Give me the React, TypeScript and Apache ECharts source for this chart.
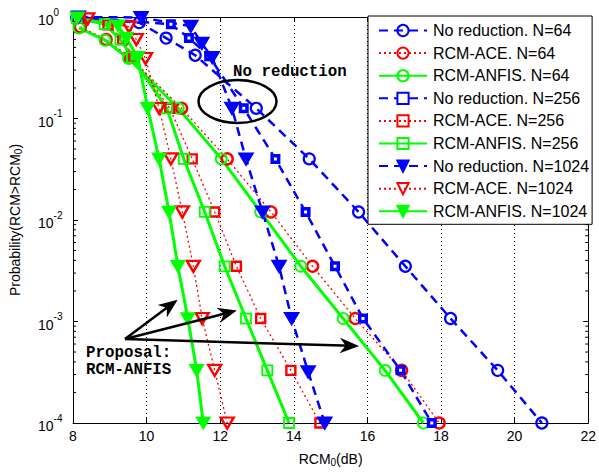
import React, { useEffect, useRef } from 'react';
import * as echarts from 'echarts';

// ---- data (x: RCM0 in dB, y: probability) ----
const noRed64 = [[8.1, 0.99], [9.8, 0.88], [10.53, 0.62], [11.32, 0.42], [12.98, 0.126], [14.42, 0.04], [15.76, 0.012], [17.03, 0.0035], [18.26, 0.00107], [19.54, 0.00033], [20.74, 0.0001]];
const ace64 = [[8.2, 0.8], [8.9, 0.6], [9.55, 0.4], [10.95, 0.126], [12.19, 0.04], [13.38, 0.012], [14.51, 0.0035], [15.67, 0.00107], [16.93, 0.00033], [17.95, 0.0001]];
const anfis64 = [[8.16, 0.78], [8.87, 0.59], [9.51, 0.39], [10.86, 0.126], [12.03, 0.04], [13.1, 0.012], [14.19, 0.0035], [15.34, 0.00107], [16.48, 0.00033], [17.52, 0.0001]];
const noRed256 = [[8.2, 0.99], [10.66, 0.85], [11.15, 0.62], [11.7, 0.41], [12.64, 0.126], [13.5, 0.04], [14.32, 0.012], [15.12, 0.0035], [15.88, 0.00107], [16.9, 0.00033], [17.75, 0.0001]];
const ace256 = [[8.2, 0.97], [8.95, 0.84], [9.35, 0.6], [9.65, 0.4], [10.63, 0.126], [11.24, 0.04], [11.85, 0.012], [12.44, 0.0035], [13.1, 0.00107], [13.92, 0.00033], [14.71, 0.0001]];
const anfis256 = [[8.1, 0.98], [8.86, 0.85], [9.29, 0.6], [9.6, 0.4], [10.55, 0.126], [11.01, 0.04], [11.58, 0.012], [12.12, 0.0035], [12.7, 0.00107], [13.28, 0.00033], [13.87, 0.0001]];
const noRed1024 = [[8.15, 1.0], [9.85, 0.99], [11.2, 0.81], [11.5, 0.55], [11.78, 0.4], [12.32, 0.126], [12.7, 0.04], [13.15, 0.012], [13.6, 0.0035], [13.94, 0.00107], [14.39, 0.00032], [14.84, 0.0001]];
const ace1024 = [[8.4, 0.96], [9.52, 0.8], [9.72, 0.6], [9.97, 0.39], [10.34, 0.126], [10.66, 0.04], [10.97, 0.012], [11.27, 0.0035], [11.51, 0.00107], [11.85, 0.00033], [12.19, 0.0001]];
const anfis1024 = [[8.12, 0.98], [9.22, 0.82], [9.45, 0.62], [9.76, 0.4], [10.03, 0.126], [10.34, 0.04], [10.61, 0.012], [10.85, 0.0035], [11.12, 0.00107], [11.36, 0.00033], [11.54, 0.0001]];

const seriesNames = [
  'No reduction. N=64', 'RCM-ACE. N=64', 'RCM-ANFIS. N=64',
  'No reduction. N=256', 'RCM-ACE. N=256', 'RCM-ANFIS. N=256',
  'No reduction. N=1024', 'RCM-ACE. N=1024', 'RCM-ANFIS. N=1024',
];

const X_MIN = 8;
const X_MAX = 22;
const X_STEP = 2;
const Y_MIN = 1e-4;
const Y_MAX = 1;
const MINOR_MULTS = [2, 3, 4, 5, 6, 7, 8, 9];
const DECADES = [1e-4, 1e-3, 1e-2, 1e-1];

const BLUE = '#0000ff';
const RED = '#ff0000';
const GREEN = '#00ff00';
const FONT = 'Liberation Sans, Arial, Helvetica, sans-serif';
const MONO = 'Liberation Mono, Courier New, monospace';

type Kind = 'blue' | 'red' | 'green';
function lineStyleFor(kind: Kind) {
  if (kind === 'blue') return { color: BLUE, width: 2.5, type: [9, 6] as any };
  if (kind === 'red') return { color: RED, width: 1.3, type: [2, 3] as any };
  return { color: GREEN, width: 3, type: 'solid' as any };
}

function mk(name: string, data: number[][], kind: Kind, symbol: string, size: any, fill: string, borderWidth: number, rotate = 0) {
  const color = kind === 'blue' ? BLUE : kind === 'red' ? RED : GREEN;
  return {
    name,
    type: 'line',
    data,
    symbol,
    symbolSize: size,
    symbolRotate: rotate,
    showAllSymbol: true,
    lineStyle: lineStyleFor(kind),
    itemStyle: {
      color: fill,
      borderColor: color,
      borderWidth,
    },
    emphasis: { disabled: true },
    z: 3,
  };
}

const CLEAR = 'rgba(255,255,255,0)';

export default function App() {
  const ref = useRef<HTMLDivElement>(null);
  useEffect(() => {
    if (!ref.current) return;
    const chart = echarts.init(ref.current, null, { renderer: 'svg' });

    const minorData: number[][] = [];
    DECADES.forEach((d) => MINOR_MULTS.forEach((m) => minorData.push([X_MIN, d * m])));

    const series: any[] = [
      mk(seriesNames[0], noRed64, 'blue', 'circle', 11, CLEAR, 2.2),
      mk(seriesNames[1], ace64, 'red', 'circle', 11, CLEAR, 2.4),
      mk(seriesNames[2], anfis64, 'green', 'circle', 11, CLEAR, 1.8),
      mk(seriesNames[3], noRed256, 'blue', 'rect', 6.5, '#fff', 3.5),
      mk(seriesNames[4], ace256, 'red', 'rect', 9, CLEAR, 2.4),
      mk(seriesNames[5], anfis256, 'green', 'rect', 10, CLEAR, 1.8),
      mk(seriesNames[6], noRed1024, 'blue', 'triangle', [13, 11], BLUE, 2.2, 180),
      mk(seriesNames[7], ace1024, 'red', 'triangle', [13, 11], CLEAR, 2.4, 180),
      mk(seriesNames[8], anfis1024, 'green', 'triangle', [13, 11], GREEN, 1.8, 180),
      {
        type: 'custom',
        name: 'minorTicks',
        silent: true,
        data: minorData,
        encode: { x: 0, y: 1 },
        renderItem: (params: any, api: any) => {
          const pt = api.coord([api.value(0), api.value(1)]);
          const cs = params.coordSys;
          const y = pt[1];
          return {
            type: 'group',
            children: [
              { type: 'line', shape: { x1: cs.x, y1: y, x2: cs.x + 3, y2: y }, style: { stroke: '#000', lineWidth: 1 } },
              { type: 'line', shape: { x1: cs.x + cs.width, y1: y, x2: cs.x + cs.width - 3, y2: y }, style: { stroke: '#000', lineWidth: 1 } },
            ],
          };
        },
        z: 1,
      },
    ];

    // arrow annotation helpers (annotation positions in pixels)
    const origin = [125, 339];
    const tips = [[176, 301], [235, 311], [357, 346]];
    const arrowEls: any[] = [];
    tips.forEach((t) => {
      const dx = t[0] - origin[0];
      const dy = t[1] - origin[1];
      const len = Math.sqrt(dx * dx + dy * dy);
      const ux = dx / len;
      const uy = dy / len;
      const nx = -uy;
      const ny = ux;
      const L = 15;
      const W = 6;
      const base = [t[0] - ux * L, t[1] - uy * L];
      arrowEls.push({
        type: 'line',
        shape: { x1: origin[0], y1: origin[1], x2: t[0] - ux * 6, y2: t[1] - uy * 6 },
        style: { stroke: '#000', lineWidth: 2.5 },
        z: 50,
      });
      arrowEls.push({
        type: 'polygon',
        shape: {
          points: [
            [t[0], t[1]],
            [base[0] + nx * W, base[1] + ny * W],
            [t[0] - ux * L * 0.7, t[1] - uy * L * 0.7],
            [base[0] - nx * W, base[1] - ny * W],
          ],
        },
        style: { fill: '#000', stroke: '#000', lineWidth: 1.5, lineJoin: 'miter' },
        z: 50,
      });
    });

    const option: any = {
      animation: false,
      backgroundColor: '#fff',
      grid: { left: 72, right: 9, top: 17, bottom: 46, containLabel: false },
      legend: {
        data: seriesNames,
        orient: 'vertical',
        left: 368,
        top: 16,
        width: 230,
        itemWidth: 48,
        itemHeight: 14,
        itemGap: 6.6,
        padding: [6.5, 3, 5, 10],
        backgroundColor: '#fff',
        borderColor: '#000',
        borderWidth: 1,
        borderRadius: 0,
        selectedMode: false,
        textStyle: { fontFamily: FONT, fontSize: 16, color: '#000', lineHeight: 16, padding: [0, 0, 0, 1] },
        z: 20,
      },
      xAxis: [
        {
          type: 'value',
          min: X_MIN,
          max: X_MAX,
          interval: X_STEP,
          name: 'RCM{sub|0}(dB)',
          nameLocation: 'middle',
          nameGap: 28,
          nameTextStyle: {
            fontFamily: FONT, fontSize: 14, color: '#000',
            rich: { sub: { fontFamily: FONT, fontSize: 10, color: '#000', verticalAlign: 'bottom', padding: [6, 0, 0, 0] } },
          },
          axisLine: { show: true, lineStyle: { color: '#000', width: 1 } },
          axisTick: { show: true, inside: true, length: 5, lineStyle: { color: '#000' } },
          axisLabel: { fontFamily: FONT, fontSize: 14, color: '#000', margin: 6 },
          splitLine: { show: true, lineStyle: { color: '#000', type: [1, 3], width: 1 } },
        },
        {
          type: 'value',
          position: 'top',
          min: X_MIN,
          max: X_MAX,
          interval: X_STEP,
          axisLine: { show: true, lineStyle: { color: '#000', width: 1 } },
          axisTick: { show: true, inside: true, length: 5, lineStyle: { color: '#000' } },
          axisLabel: { show: false },
          splitLine: { show: false },
        },
      ],
      yAxis: [
        {
          type: 'log',
          logBase: 10,
          min: Y_MIN,
          max: Y_MAX,
          name: 'Probability(RCM>RCM{sub|0})',
          nameLocation: 'middle',
          nameGap: 50,
          nameRotate: 90,
          nameTextStyle: {
            fontFamily: FONT, fontSize: 14, color: '#000',
            rich: { sub: { fontFamily: FONT, fontSize: 10, color: '#000', verticalAlign: 'bottom', padding: [6, 0, 0, 0] } },
          },
          axisLine: { show: true, lineStyle: { color: '#000', width: 1 } },
          axisTick: { show: true, inside: true, length: 5, lineStyle: { color: '#000' } },
          axisLabel: {
            fontFamily: FONT,
            fontSize: 14,
            color: '#000',
            align: 'left',
            margin: 35,
            formatter: (v: number) => '{b|10}{s|' + Math.round(Math.log10(v)) + '}',
            rich: {
              b: { fontFamily: FONT, fontSize: 14, color: '#000', verticalAlign: 'bottom', lineHeight: 20, padding: [6, 0, 0, 0] },
              s: { fontFamily: FONT, fontSize: 10, color: '#000', verticalAlign: 'top', lineHeight: 20, padding: [0, 0, 6, 0] },
            },
          },
          splitLine: { show: false },
        },
        {
          type: 'log',
          logBase: 10,
          min: Y_MIN,
          max: Y_MAX,
          position: 'right',
          axisLine: { show: true, lineStyle: { color: '#000', width: 1 } },
          axisTick: { show: true, inside: true, length: 5, lineStyle: { color: '#000' } },
          axisLabel: { show: false },
          splitLine: { show: false },
        },
      ],
      series,
      graphic: [
        {
          type: 'text',
          left: 233,
          top: 64,
          style: { text: 'No reduction', font: 'bold 15.8px ' + MONO, fill: '#000' },
          z: 50,
        },
        {
          type: 'ellipse',
          shape: { cx: 237.5, cy: 101.5, rx: 39, ry: 21.5 },
          style: { fill: 'none', stroke: '#000', lineWidth: 2.5 },
          z: 50,
        },
        {
          type: 'text',
          left: 86,
          top: 345,
          style: { text: 'Proposal:', font: 'bold 15.8px ' + MONO, fill: '#000' },
          z: 50,
        },
        {
          type: 'text',
          left: 86,
          top: 362,
          style: { text: 'RCM-ANFIS', font: 'bold 15.8px ' + MONO, fill: '#000' },
          z: 50,
        },
        ...arrowEls,
      ],
    };
    chart.setOption(option);
    return () => chart.dispose();
  }, []);

  return (
    <div
      ref={ref}
      style={{ position: 'fixed', left: 0, top: 0, width: 599, height: 472, background: '#fff' }}
    />
  );
}
